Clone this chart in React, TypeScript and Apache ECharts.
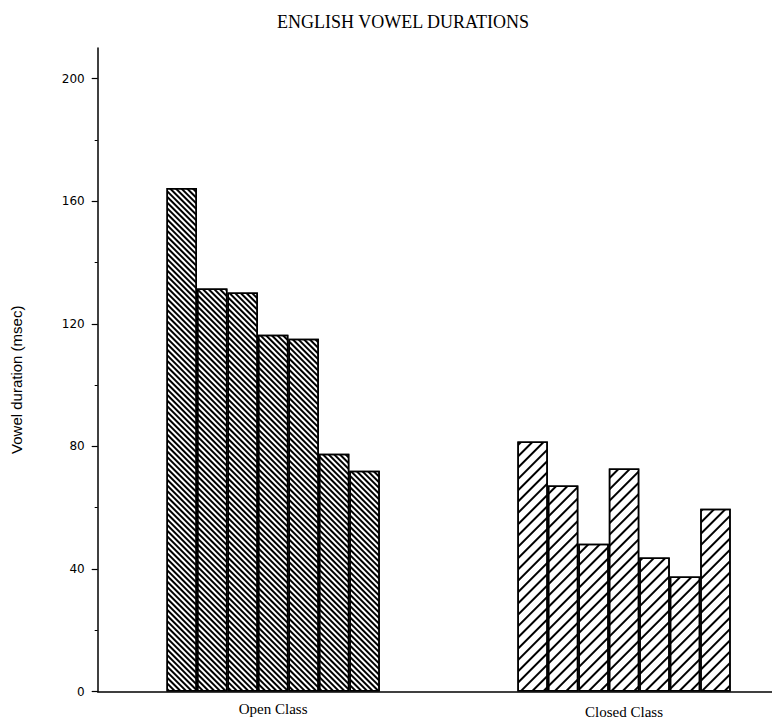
import React, { useEffect, useRef } from "react";
import * as echarts from "echarts";

const categories = ["Open Class", "Closed Class"];
const openClass = [164.3, 131.5, 130.2, 116.4, 115.1, 77.6, 72.0];
const closedClass = [81.6, 67.2, 48.2, 72.8, 43.7, 37.5, 59.6];
const yTicks = [0, 40, 80, 120, 160, 200];
const yMinorTicks = [20, 60, 100, 140, 180];

export default function App() {
  const ref = useRef<HTMLDivElement>(null);
  useEffect(() => {
    document.body.style.margin = "0";
    const chart = echarts.init(ref.current!, null, { renderer: "svg" });
    const openStyle = {
      color: "#fff",
      borderColor: "#000",
      borderWidth: 1.5,
      decal: {
        symbol: "rect",
        symbolSize: 1,
        color: "#000",
        dashArrayX: [1, 0],
        dashArrayY: [2, 1.5],
        rotation: Math.PI / 4,
      },
    };
    const closedStyle = {
      color: "#fff",
      borderColor: "#000",
      borderWidth: 1.5,
      decal: {
        symbol: "rect",
        symbolSize: 1,
        color: "#000",
        dashArrayX: [1, 0],
        dashArrayY: [1.5, 6],
        rotation: -Math.PI / 4,
      },
    };
    const series = openClass.map((v, i) => ({
      type: "bar",
      yAxisIndex: 0,
      barGap: "0%",
      barCategoryGap: "39.2%",
      data: [
        { value: v, itemStyle: openStyle },
        { value: closedClass[i], itemStyle: closedStyle },
      ],
    }));
    chart.setOption({
      animation: false,
      title: {
        text: "ENGLISH VOWEL DURATIONS",
        left: 272,
        top: 8,
        textStyle: {
          fontFamily: "Liberation Serif",
          fontSize: 18,
          fontWeight: "normal",
          color: "#000",
        },
      },
      grid: {
        left: 97.7,
        top: 48,
        width: 701.8,
        height: 643.5,
        containLabel: false,
        outerBoundsMode: "none",
      },
      xAxis: {
        type: "category",
        data: [
          { value: categories[0] },
          { value: categories[1], textStyle: { padding: [3, 0, 0, 0] } },
        ],
        axisLine: { show: true, lineStyle: { color: "#000", width: 1.5 } },
        axisTick: { show: false },
        axisLabel: {
          margin: 10,
          fontFamily: "Liberation Serif",
          fontSize: 15,
          color: "#000",
        },
        splitLine: { show: false },
      },
      yAxis: [
        {
          type: "value",
          min: 0,
          max: 210,
          interval: 40,
          name: "Vowel duration (msec)",
          nameLocation: "middle",
          nameGap: 74,
          nameTextStyle: {
            fontFamily: "Liberation Sans",
            fontSize: 15,
            color: "#000",
            padding: [0, 20, 0, 0],
          },
          axisLine: { show: true, lineStyle: { color: "#000", width: 1.5 } },
          axisTick: {
            show: true,
            customValues: yTicks,
            length: 6,
            lineStyle: { color: "#000", width: 1.2 },
          },
          axisLabel: {
            customValues: yTicks,
            margin: 13,
            fontFamily: "DejaVu Sans",
            fontSize: 12,
            color: "#000",
          },
          splitLine: { show: false },
        },
        {
          type: "value",
          min: 0,
          max: 210,
          position: "left",
          axisLine: { show: false },
          axisTick: {
            show: true,
            customValues: yMinorTicks,
            length: 3,
            lineStyle: { color: "#000", width: 1 },
          },
          axisLabel: { show: false },
          splitLine: { show: false },
        },
      ],
      series,
    });
    return () => chart.dispose();
  }, []);
  return <div ref={ref} style={{ width: 772, height: 722 }} />;
}
